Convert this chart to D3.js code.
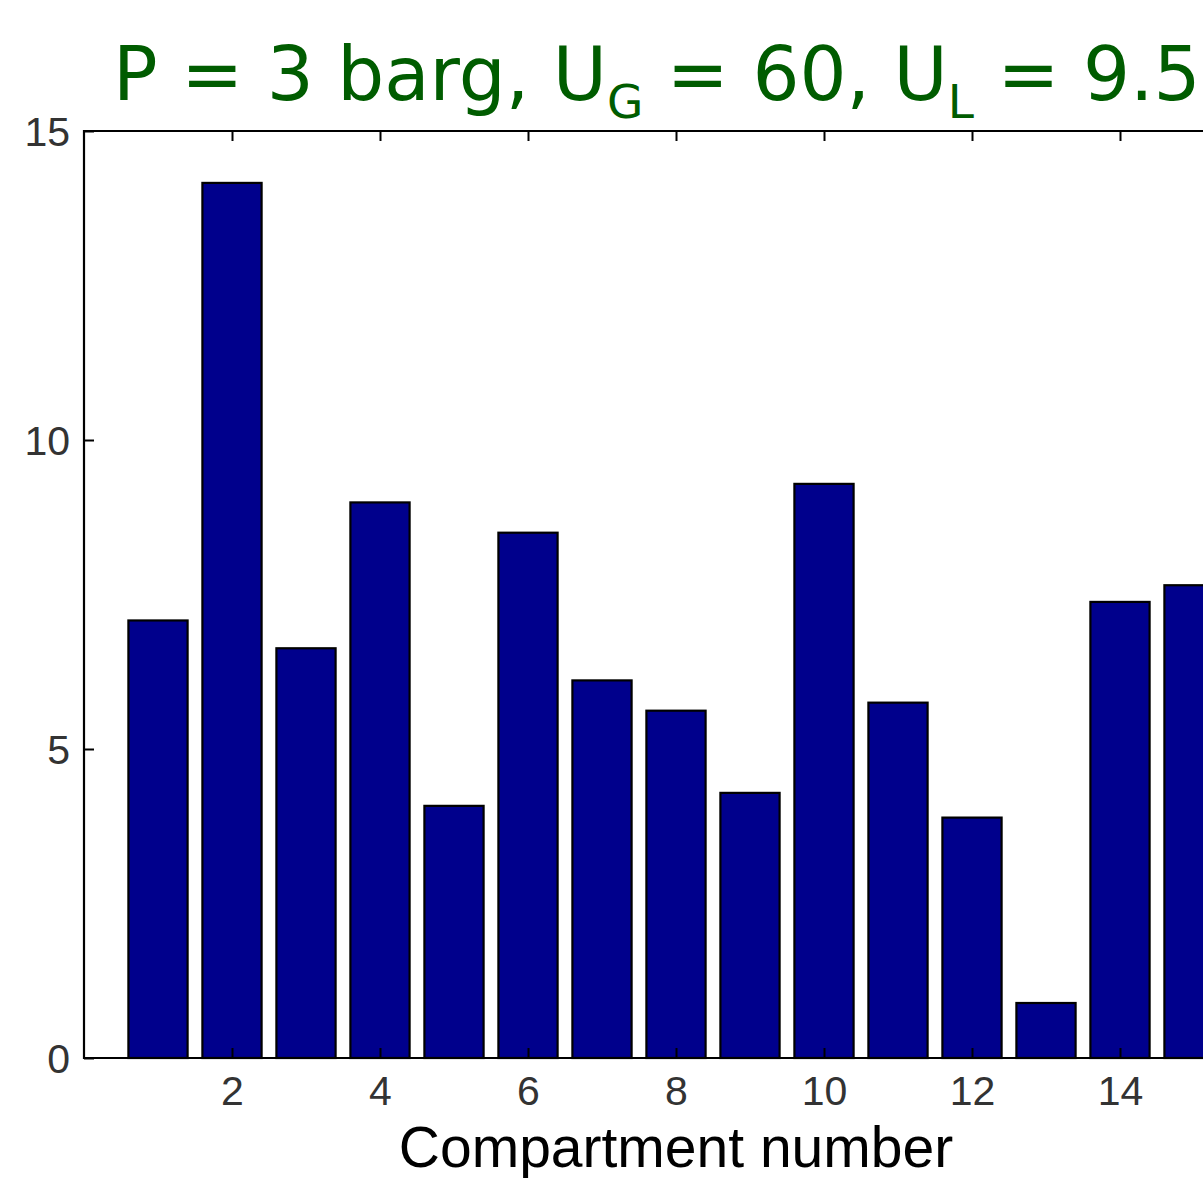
<!DOCTYPE html>
<html>
<head>
<meta charset="utf-8">
<script src="https://cdn.jsdelivr.net/npm/d3@7"></script>
<style>
  html, body { margin: 0; padding: 0; background: #fff; overflow: hidden; }
  svg { display: block; }
</style>
</head>
<body>
<svg id="chart" width="1203" height="1178"></svg>
<script>
// Bubble count per compartment
const compartments = [1, 2, 3, 4, 5, 6, 7, 8, 9, 10, 11, 12, 13, 14, 15];
const counts = [7.08, 14.16, 6.63, 8.99, 4.08, 8.50, 6.11, 5.62, 4.29, 9.29, 5.75, 3.89, 0.89, 7.38, 7.65];
const xTicks = [2, 4, 6, 8, 10, 12, 14];
const yTicks = [0, 5, 10, 15];

const svg = d3.select("#chart");
const plotLeft = 84, plotTop = 131, plotBottom = 1058, plotRight = 1268;

const x = d3.scaleLinear().domain([0, 16]).range([plotLeft, plotRight]);
const y = d3.scaleLinear().domain([0, 15]).range([plotBottom, plotTop]);
const barW = x(0.8) - x(0);

// Bars
svg.append("g")
  .selectAll("rect")
  .data(compartments)
  .join("rect")
  .attr("x", (d) => x(d) - barW / 2)
  .attr("y", (d, i) => y(counts[i]))
  .attr("width", barW)
  .attr("height", (d, i) => y(0) - y(counts[i]))
  .attr("fill", "#00008c")
  .attr("stroke", "#000")
  .attr("stroke-width", 2.2);

const tickFont = "'Liberation Sans', Arial, sans-serif";

// Left axis (ticks pointing inward)
const yAxis = svg.append("g")
  .attr("transform", `translate(${plotLeft},0)`)
  .call(d3.axisLeft(y).tickValues(yTicks).tickSize(-10).tickSizeOuter(0));
yAxis.select(".domain").remove();
yAxis.selectAll("line").attr("stroke", "#000").attr("stroke-width", 2);
yAxis.selectAll("text")
  .attr("font-family", tickFont)
  .attr("font-size", 41)
  .attr("fill", "#333")
  .attr("x", -14)
  .attr("dy", "0.36em");

// Bottom axis
const xAxis = svg.append("g")
  .attr("transform", `translate(0,${plotBottom})`)
  .call(d3.axisBottom(x).tickValues(xTicks).tickSize(-10).tickSizeOuter(0));
xAxis.select(".domain").remove();
xAxis.selectAll("line").attr("stroke", "#000").attr("stroke-width", 2);
xAxis.selectAll("text")
  .attr("font-family", tickFont)
  .attr("font-size", 41)
  .attr("fill", "#333")
  .attr("y", 47)
  .attr("dy", 0);

// Top axis ticks (no labels)
const xTop = svg.append("g")
  .attr("transform", `translate(0,${plotTop})`)
  .call(d3.axisTop(x).tickValues(xTicks).tickSize(-10).tickSizeOuter(0).tickFormat(""));
xTop.select(".domain").remove();
xTop.selectAll("line").attr("stroke", "#000").attr("stroke-width", 2);

// Axes box
svg.append("path")
  .attr("d", `M${plotRight},${plotTop}H${plotLeft}V${plotBottom}H${plotRight}`)
  .attr("fill", "none")
  .attr("stroke", "#000")
  .attr("stroke-width", 2.2);

// X axis label
svg.append("text")
  .attr("x", (plotLeft + plotRight) / 2)
  .attr("y", 1167)
  .attr("text-anchor", "middle")
  .attr("font-family", tickFont)
  .attr("font-size", 57)
  .attr("fill", "#000")
  .text("Compartment number");

// Title with subscripts
const title = svg.append("text")
  .attr("x", 113)
  .attr("y", 100)
  .attr("font-family", "'DejaVu Sans', Verdana, sans-serif")
  .attr("font-size", 74)
  .attr("fill", "#005c00");
title.append("tspan").text("P = 3 barg, U");
title.append("tspan").attr("font-size", 47).attr("dy", 18).text("G");
title.append("tspan").attr("dy", -18).text(" = 60, U");
title.append("tspan").attr("font-size", 47).attr("dy", 18).text("L");
title.append("tspan").attr("dy", -18).text(" = 9.5");
</script>
</body>
</html>
